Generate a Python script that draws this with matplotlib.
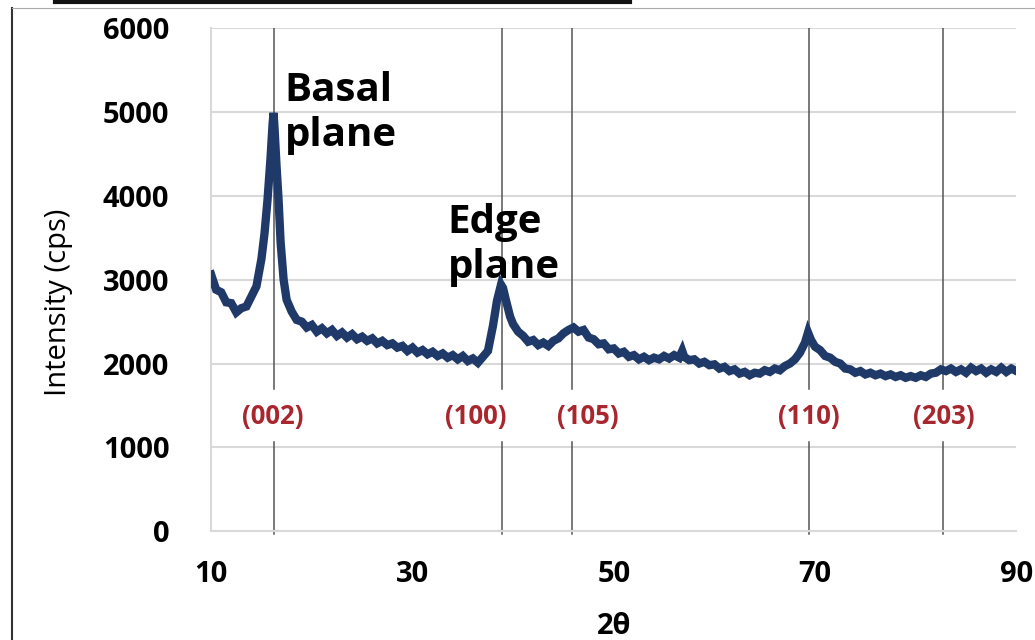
import matplotlib.pyplot as plt
from matplotlib.lines import Line2D

# XRD pattern
two_theta = [10.0, 10.5, 11.0, 11.5, 12.0, 12.5, 13.0, 13.5, 14.0, 14.5,
             15.0, 15.3, 15.6, 15.9, 16.1, 16.2, 16.3, 16.5, 16.7, 16.9,
             17.2, 17.5, 18.0, 18.5, 19.0, 19.5, 20.0, 20.5, 21.0, 21.5,
             22.0, 22.5, 23.0, 23.5, 24.0, 24.5, 25.0, 25.5, 26.0, 26.5,
             27.0, 27.5, 28.0, 28.5, 29.0, 29.5, 30.0, 30.5, 31.0, 31.5,
             32.0, 32.5, 33.0, 33.5, 34.0, 34.5, 35.0, 35.5, 36.0, 36.5,
             37.0, 37.5, 38.0, 38.4, 38.8, 39.0, 39.3, 39.7, 40.0, 40.5,
             41.0, 41.5, 42.0, 42.5, 43.0, 43.5, 44.0, 44.5, 45.0, 45.5,
             46.0, 46.5, 47.0, 47.5, 48.0, 48.5, 49.0, 49.5, 50.0, 50.5,
             51.0, 51.5, 52.0, 52.5, 53.0, 53.5, 54.0, 54.5, 55.0, 55.5,
             56.0, 56.5, 56.8, 57.0, 57.5, 58.0, 58.5, 59.0, 59.5, 60.0,
             60.5, 61.0, 61.5, 62.0, 62.5, 63.0, 63.5, 64.0, 64.5, 65.0,
             65.5, 66.0, 66.5, 67.0, 67.5, 68.0, 68.5, 69.0, 69.3, 69.6,
             70.0, 70.5, 71.0, 71.5, 72.0, 72.5, 73.0, 73.5, 74.0, 74.5,
             75.0, 75.5, 76.0, 76.5, 77.0, 77.5, 78.0, 78.5, 79.0, 79.5,
             80.0, 80.5, 81.0, 81.5, 82.0, 82.5, 83.0, 83.5, 84.0, 84.5,
             85.0, 85.5, 86.0, 86.5, 87.0, 87.5, 88.0, 88.5, 89.0, 89.5, 90.0]
intensity = [3060, 2880, 2850, 2730, 2720, 2610, 2660, 2680, 2800, 2920,
             3250, 3550, 3950, 4450, 4850, 4990, 4800, 4350, 3950, 3450,
             3000, 2760, 2620, 2520, 2500, 2430, 2460, 2380, 2420, 2360,
             2400, 2330, 2370, 2310, 2350, 2290, 2320, 2270, 2300, 2240,
             2270, 2220, 2240, 2190, 2210, 2150, 2190, 2130, 2160, 2110,
             2140, 2090, 2120, 2070, 2100, 2050, 2090, 2030, 2060, 2010,
             2080, 2150, 2450, 2750, 2940, 2900, 2750, 2560, 2470, 2380,
             2330, 2260, 2280, 2220, 2250, 2210, 2270, 2300, 2360, 2400,
             2430, 2380, 2400, 2310, 2290, 2230, 2240, 2170, 2180, 2120,
             2140, 2080, 2100, 2050, 2080, 2040, 2070, 2050, 2090, 2060,
             2100, 2070, 2150, 2080, 2040, 2050, 2000, 2020, 1980, 1990,
             1940, 1960, 1910, 1930, 1880, 1900, 1860, 1890, 1880, 1920,
             1900, 1940, 1920, 1970, 2000, 2050, 2130, 2250, 2370, 2280,
             2200, 2160, 2090, 2070, 2020, 2000, 1940, 1930, 1890, 1910,
             1870, 1890, 1860, 1880, 1850, 1870, 1840, 1860, 1830, 1850,
             1830, 1860, 1840, 1880, 1890, 1930, 1910, 1940, 1900, 1930,
             1890, 1950, 1910, 1940, 1890, 1930, 1900, 1950, 1900, 1940, 1910]

peak_pos = [16.2, 38.9, 45.9, 69.4, 82.7]
peak_labels = ["(002)", "(100)", "(105)", "(110)", "(203)"]
label_pos = [16.1, 36.3, 47.4, 69.4, 82.8]

font = ['Open Sans', 'DejaVu Sans']
line_color = '#1f3a68'
label_red = '#a8262e'

fig = plt.figure(figsize=(10.35, 6.4), dpi=100)
ax = fig.add_axes([0.204, 0.170, 0.778, 0.786])

ax.plot(two_theta, intensity, color=line_color, lw=6, solid_joinstyle='miter', zorder=3)

# reflection marker lines, broken where the hkl labels sit
for x in peak_pos:
    ax.plot([x, x], [1700, 6000], color='#555555', lw=1.1, zorder=2)
    ax.plot([x, x], [-30, 1060], color='#555555', lw=1.1, zorder=2, clip_on=False)
for x, lab in zip(label_pos, peak_labels):
    ax.text(x, 1370, lab, color=label_red, fontsize=18.5, fontweight='bold',
            ha='center', va='center', family=font)

ax.text(17.3, 4990, "Basal\nplane", fontsize=29, fontweight='bold', family=font,
        ha='left', va='center', linespacing=1.2, zorder=4)
ax.text(33.5, 3410, "Edge\nplane", fontsize=29, fontweight='bold', family=font,
        ha='left', va='center', linespacing=1.2, zorder=4)

ax.set_xlim(10, 90)
ax.set_ylim(0, 6000)
ax.set_xticks([10, 30, 50, 70, 90])
ax.set_yticks(range(0, 6001, 1000))
ax.grid(axis='y', color='#d9d9d9', lw=1.5, zorder=0)
ax.set_axisbelow(True)
for s in ['top', 'right']:
    ax.spines[s].set_visible(False)
for s in ['left', 'bottom']:
    ax.spines[s].set_color('#d9d9d9')
    ax.spines[s].set_linewidth(1.5)
ax.tick_params(length=0, labelsize=21)
ax.tick_params(axis='x', pad=21)
ax.tick_params(axis='y', pad=30)
for t in ax.get_xticklabels() + ax.get_yticklabels():
    t.set_fontweight('bold')
    t.set_family(font)

ax.set_xlabel("2θ", fontsize=21, fontweight='bold', family=font, labelpad=16)
ax.set_ylabel("Intensity (cps)", fontsize=21, family=font)
ax.yaxis.set_label_coords(-0.172, 0.455)

# screenshot frame
fig.add_artist(Line2D([12 / 1035, 12 / 1035], [0, 1 - 8 / 640],
                      transform=fig.transFigure, color='#333333', lw=1.5))
fig.add_artist(Line2D([12 / 1035, 1], [1 - 8 / 640, 1 - 8 / 640],
                      transform=fig.transFigure, color='#aaaaaa', lw=0.8))
fig.add_artist(Line2D([55 / 1035, 630 / 1035], [1 - 1.5 / 640, 1 - 1.5 / 640],
                      transform=fig.transFigure, color='#111111', lw=3))

fig.savefig('out.png', dpi=100)
